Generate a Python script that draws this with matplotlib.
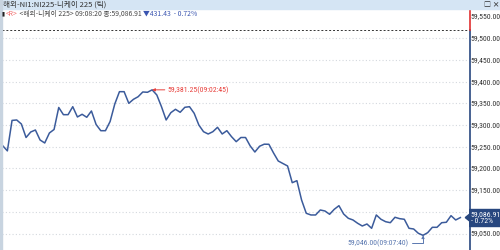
import matplotlib
matplotlib.use("Agg")
import matplotlib.pyplot as plt
from matplotlib import font_manager
from matplotlib.patches import Rectangle, Polygon

# Nikkei 225 tick prices (one value per tick)
prices = [
    59252.5, 59240.6, 59310.8, 59311.8, 59302.5, 59271.4, 59284.1, 59288.7, 59265.7, 59258.8,
    59281.8, 59289.9, 59340.6, 59324.0, 59324.0, 59342.4, 59318.7, 59324.9, 59318.0, 59332.5,
    59301.4, 59287.1, 59287.1, 59308.3, 59348.6, 59377.0, 59377.0, 59350.2, 59359.4, 59365.4,
    59376.3, 59375.6, 59381.25, 59369.4, 59342.4, 59311.8, 59328.6, 59336.4, 59329.5, 59341.0,
    59342.4, 59327.2, 59300.2, 59284.8, 59279.5, 59284.8, 59294.9, 59279.5, 59287.1, 59273.3,
    59261.8, 59271.4, 59271.4, 59251.9, 59238.0, 59251.2, 59256.0, 59255.8, 59235.7, 59217.3,
    59211.5, 59205.8, 59167.3, 59171.9, 59127.4, 59096.8, 59092.9, 59092.9, 59104.4, 59102.1,
    59094.5, 59106.0, 59114.3, 59095.2, 59085.3, 59081.4, 59073.8, 59067.5, 59072.1, 59062.2,
    59092.9, 59083.0, 59077.4, 59075.1, 59087.6, 59084.4, 59083.0, 59062.2, 59060.6, 59050.7,
    59046.0, 59052.1, 59064.5, 59064.5, 59075.1, 59076.1, 59091.3, 59081.4, 59086.91,
]
prev_close = 59518.34
y_ticks = [59050, 59100, 59150, 59200, 59250, 59300, 59350, 59400, 59450, 59500, 59550]
hi_label = "59,381.25(09:02:45)"
lo_label = "59,046.00(09:07:40)"
title = "해외-NI1:NI225-니케이 225 (틱)"
info = [("<R>", "#f06a6a"), (" <해외-니케이 225> 09:08:20 종:59,086.91 ", "#444444"),
        ("▼431.43  - 0.72%", "#3a55b0")]

LINE = "#3b5b9b"
NAVY = "#28477f"
KR = ["Noto Sans CJK KR", "DejaVu Sans"]

# pick a narrow font for the numbers if one is installed
names = {f.name for f in font_manager.fontManager.ttflist}
NARROW = "Noto Sans CJK KR"
for cand in ["Liberation Sans Narrow", "DejaVu Sans Condensed", "Roboto Condensed"]:
    if cand in names:
        NARROW = cand
        break
NFS = 5.6 if NARROW != "Noto Sans CJK KR" else 5.0

fig = plt.figure(figsize=(5, 2.5), dpi=100)
fig.patch.set_facecolor("white")

ax = fig.add_axes([0.004, 0.0, 0.934, 0.964])
ax.set_xlim(-0.15, 99.85)
ax.set_ylim(59012.2, 59567.5)
for s in ax.spines.values():
    s.set_visible(False)
ax.set_xticks([])
ax.set_yticks([])

# dotted grid
for t in y_ticks[:-1]:
    ax.axhline(t, color="#d4d8de", lw=0.8, ls=(0, (1, 2)), zorder=1)
# previous close
ax.axhline(prev_close, color="#333333", lw=0.7, ls=(0, (2, 2)), zorder=2)

x = list(range(len(prices)))
ax.plot(x, prices, color=LINE, lw=1.1, zorder=3)

# high annotation
i_hi = prices.index(max(prices))
ax.annotate(hi_label, xy=(i_hi, prices[i_hi]), xytext=(i_hi + 3.3, prices[i_hi]),
            color="#e8403c", fontsize=NFS, family=NARROW, va="center", ha="left",
            arrowprops=dict(arrowstyle="-|>", color="#e8403c", lw=0.7,
                            mutation_scale=4, shrinkA=0, shrinkB=0))
# low annotation
i_lo = prices.index(min(prices))
ax.annotate(lo_label, xy=(i_lo, prices[i_lo]), xytext=(i_lo - 3.0, 59012.2 + 16),
            color="#5a78b0", fontsize=NFS, family=NARROW, va="center", ha="right",
            arrowprops=dict(arrowstyle="-|>", color="#5a78b0", lw=0.7,
                            mutation_scale=4, shrinkA=0, shrinkB=0,
                            connectionstyle="angle,angleA=0,angleB=90,rad=0"))

# right price axis
axr = fig.add_axes([0.938, 0.0, 0.062, 0.964])
axr.set_ylim(ax.get_ylim())
axr.set_xlim(0, 1)
axr.axis("off")
axr.plot([0.02, 0.02], [59012.2, prev_close], color=NAVY, lw=1.2)
axr.plot([0.02, 0.02], [prev_close, 59567.5], color="#e03030", lw=1.2)
for t in y_ticks:
    if abs(t - prices[-1]) < 25:
        continue
    axr.text(0.06, t, f"{t:,.2f}", fontsize=NFS, family=NARROW,
             color="#333333", va="center", ha="left")
# current price box
last = prices[-1]
axr.add_patch(Rectangle((0.0, last - 19), 1.0, 38, color=NAVY, zorder=4))
axr.add_patch(Polygon([[-0.12, last], [0.02, last + 8], [0.02, last - 8]],
                      closed=True, color=NAVY, clip_on=False, zorder=4))
axr.text(0.06, last + 9, f"{last:,.2f}", fontsize=NFS, family=NARROW,
         color="white", va="center", ha="left", zorder=5)
axr.text(0.06, last - 9, "- 0.72%", fontsize=NFS, family=NARROW,
         color="white", va="center", ha="left", zorder=5)

# title bar
fig.patches.append(Rectangle((0, 1 - 9 / 250), 1, 9 / 250, transform=fig.transFigure,
                             color="#d5e5f4", zorder=0))
fig.patches.append(Rectangle((0, 0), 2 / 500, 1, transform=fig.transFigure,
                             color="#c8d4e0", zorder=0))
fig.text(3 / 500, 1 - 4.5 / 250, title, fontsize=5.5, family=KR,
         color="#333333", va="center", ha="left")
fig.text(484 / 500, 1 - 4.5 / 250, "□ ×", fontsize=5.0, family=KR,
         color="#333333", va="center", ha="left", weight="bold")

# info line, pieces placed one after another
yl = 1 - 14 / 250
fig.text(2 / 500, yl, "▮", fontsize=4, family=KR, color="#222222", va="center")
renderer = fig.canvas.get_renderer()
xpos = 6 / 500
for txt, col in info:
    t = fig.text(xpos, yl, txt, fontsize=4.9, family=KR, color=col, va="center")
    bb = t.get_window_extent(renderer)
    xpos = bb.x1 / fig.bbox.width

fig.savefig("out.png", dpi=100)
